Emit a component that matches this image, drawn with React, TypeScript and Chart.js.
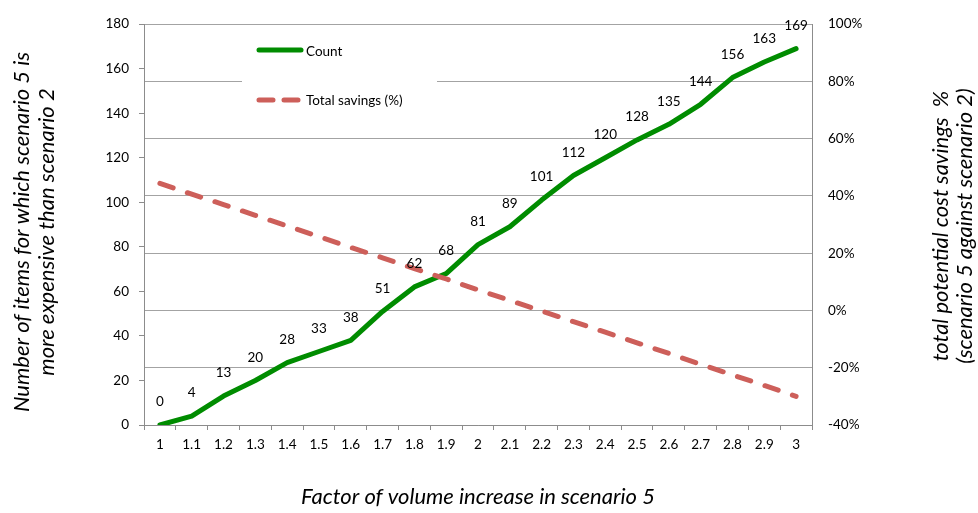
import React, { useEffect, useRef } from "react";
import { Chart, registerables } from "chart.js";

Chart.register(...registerables);

const factors = ["1", "1.1", "1.2", "1.3", "1.4", "1.5", "1.6", "1.7", "1.8", "1.9", "2", "2.1", "2.2", "2.3", "2.4", "2.5", "2.6", "2.7", "2.8", "2.9", "3"];
const countValues = [0, 4, 13, 20, 28, 33, 38, 51, 62, 68, 81, 89, 101, 112, 120, 128, 135, 144, 156, 163, 169];
const savingsPercent = [44.4, 40.6, 37.0, 33.2, 29.5, 25.8, 22.0, 18.4, 14.6, 11.0, 7.2, 3.5, -0.2, -3.9, -7.6, -11.3, -15.0, -18.8, -22.5, -26.2, -30.0];

const countLabel = "Count";
const savingsLabel = "Total savings (%)";
const leftTitle = ["Number of items for which scenario 5 is", "more expensive than scenario 2"];
const rightTitle = ["total potential cost savings  %", "(scenario 5 against scenario 2)"];
const bottomTitle = "Factor of volume increase in scenario 5";

const GREEN = "#008c00";
const RED = "#cd5f5a";
const GRID = "#a3a3a3";
const AXIS = "#8c8c8c";
const FONT = "Lato, 'Open Sans', sans-serif";

const overlayPlugin = {
  id: "overlay",
  afterDatasetsDraw(chart: any) {
    const ctx = chart.ctx as CanvasRenderingContext2D;
    const meta = chart.getDatasetMeta(0);
    ctx.save();
    // data labels for count
    ctx.fillStyle = "#000";
    ctx.font = `13.5px ${FONT}`;
    ctx.textAlign = "center";
    ctx.textBaseline = "middle";
    meta.data.forEach((pt: any, i: number) => {
      ctx.fillText(String(countValues[i]), pt.x, pt.y - 23);
    });

    // legend box
    ctx.fillStyle = "#fff";
    ctx.fillRect(242, 30, 195, 90);
    ctx.lineCap = "round";
    ctx.lineWidth = 5;
    ctx.strokeStyle = GREEN;
    ctx.beginPath();
    ctx.moveTo(259, 50);
    ctx.lineTo(301, 50);
    ctx.stroke();
    ctx.strokeStyle = RED;
    ctx.beginPath();
    ctx.moveTo(259, 100);
    ctx.lineTo(273, 100);
    ctx.moveTo(284, 100);
    ctx.lineTo(298, 100);
    ctx.stroke();
    ctx.fillStyle = "#000";
    ctx.font = `13.5px ${FONT}`;
    ctx.textAlign = "left";
    ctx.textBaseline = "middle";
    ctx.fillText(countLabel, 306, 52);
    ctx.fillText(savingsLabel, 306, 101);

    // axis titles
    ctx.font = `italic 22px ${FONT}`;
    ctx.textAlign = "center";
    ctx.textBaseline = "middle";
    ctx.save();
    ctx.translate(22, 232);
    ctx.rotate(-Math.PI / 2);
    ctx.fillText(leftTitle[0], 0, 0);
    ctx.fillText(leftTitle[1], 0, 25);
    ctx.restore();

    ctx.save();
    ctx.translate(941, 226);
    ctx.rotate(-Math.PI / 2);
    ctx.fillText(rightTitle[0], 0, 0);
    ctx.fillText(rightTitle[1], 0, 24);
    ctx.restore();

    ctx.fillText(bottomTitle, (chart.chartArea.left + chart.chartArea.right) / 2, 497);
    ctx.restore();
  },
};

export default function App() {
  const ref = useRef<HTMLCanvasElement | null>(null);
  useEffect(() => {
    if (!ref.current) return;
    const tickFont = { family: FONT, size: 13.5 };
    const chart = new Chart(ref.current, {
      type: "line",
      data: {
        labels: factors,
        datasets: [
          {
            label: countLabel,
            data: countValues,
            yAxisID: "y",
            borderColor: GREEN,
            backgroundColor: GREEN,
            borderWidth: 5,
            pointRadius: 0,
            tension: 0,
            borderCapStyle: "round",
            borderJoinStyle: "round",
            order: 1,
          },
          {
            label: savingsLabel,
            data: savingsPercent,
            yAxisID: "y2",
            borderColor: RED,
            backgroundColor: RED,
            borderWidth: 5,
            borderDash: [14, 15],
            borderCapStyle: "round",
            pointRadius: 0,
            tension: 0,
            order: 0,
          },
        ],
      },
      options: {
        responsive: false,
        animation: false,
        layout: { padding: { top: 14, left: 0, right: 0, bottom: 0 } },
        plugins: { legend: { display: false }, tooltip: { enabled: false } },
        scales: {
          x: {
            type: "category",
            offset: true,
            grid: { offset: true, drawOnChartArea: false, drawTicks: true, tickLength: 5, color: AXIS },
            border: { display: true, color: AXIS, width: 1 },
            ticks: { font: tickFont, color: "#000", padding: 7, maxRotation: 0, autoSkip: false },
            afterFit: (s: any) => { s.height = 88; },
          },
          y: {
            position: "left",
            min: 0,
            max: 180,
            ticks: { stepSize: 20, font: tickFont, color: "#000", padding: 10 },
            grid: { drawOnChartArea: false, drawTicks: true, tickLength: 5, color: AXIS },
            border: { display: true, color: AXIS, width: 1 },
            afterFit: (s: any) => { s.width = 144; },
          },
          y2: {
            position: "right",
            min: -40,
            max: 100,
            ticks: { stepSize: 20, font: tickFont, color: "#000", padding: 16, callback: (v: any) => `${v}%` },
            grid: { drawOnChartArea: true, drawTicks: false, color: GRID, lineWidth: 1 },
            border: { display: true, color: AXIS, width: 1 },
            afterFit: (s: any) => { s.width = 166; },
          },
        },
      },
      plugins: [overlayPlugin],
    });
    return () => chart.destroy();
  }, []);
  return (
    <div style={{ position: "fixed", left: 0, top: 0, width: 978, height: 513, background: "#fff" }}>
      <canvas ref={ref} width={978} height={513} style={{ display: "block" }} />
    </div>
  );
}
